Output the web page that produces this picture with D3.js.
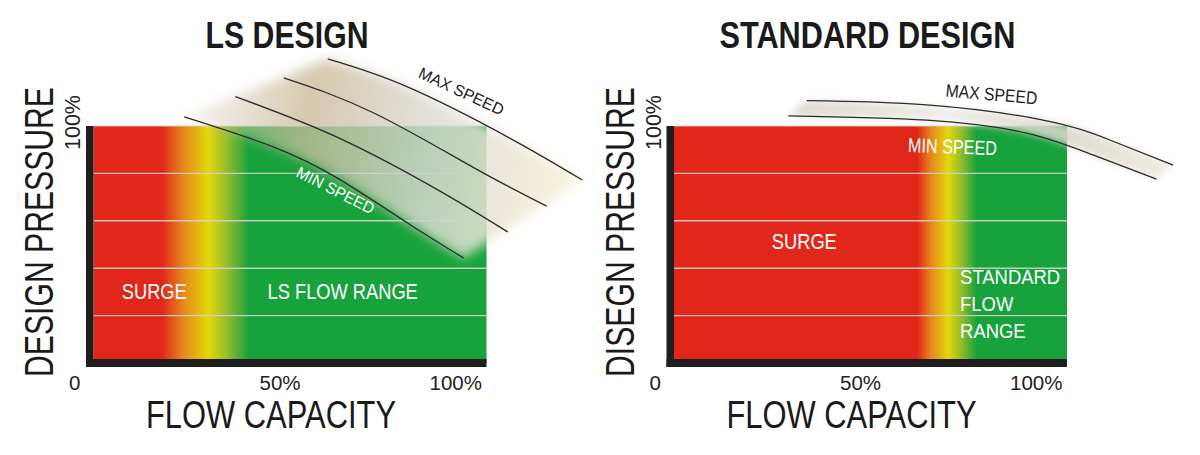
<!DOCTYPE html>
<html>
<head>
<meta charset="utf-8">
<script src="https://cdn.jsdelivr.net/npm/d3@7"></script>
<style>
  body { margin: 0; background: #fff; }
  svg { display: block; }
</style>
</head>
<body>
<script>
// ---- data ----
var chartTitles = ["LS DESIGN", "STANDARD DESIGN"];
var yTitles = ["DESIGN PRESSURE", "DISEGN PRESSURE"];
var xTitle = "FLOW CAPACITY";
var flowTicks = [0, 50, 100];
var flowTickLabels = ["0", "50%", "100%"];
var pressureGrid = [20, 40, 60, 80, 100];
var pressureTopLabel = "100%";

// colour zones in % flow: [end of red, yellow, start of green]
var lsZones = [17.4, 29.2, 39.5];
var stdZones = [61.8, 69.7, 77];

// speed lines as [flow %, pressure %]
var lsMinSpeed = [[23.1, 103.8], [45.4, 91.4], [62.5, 77.6], [79.9, 59.1], [94.2, 44.3]];
var lsSpeed2   = [[36.1, 112.4], [62.5, 94.9], [88.5, 72.2], [105.4, 55.3]];
var lsSpeed3   = [[48.4, 120.3], [71.2, 105.6], [97.2, 82.0], [115.3, 66.2]];
var lsMaxSpeed = [[59.6, 128.3], [79.9, 116.5], [105.9, 94.9], [124.4, 77.2]];

var stdMaxSpeed = [[33.8, 110.7], [64.3, 108.9], [93.9, 102.5], [110.9, 94.1], [127.0, 83.5]];
var stdMinSpeed = [[29.1, 104.3], [64.3, 102.5], [89.7, 97.0], [106.6, 87.8], [122.8, 77.6]];

// white zone labels: text, flow %, pressure % (baseline)
var lsLabels = [["SURGE", 7.2, 27], ["LS FLOW RANGE", 44.3, 27]];
var stdLabels = [["SURGE", 24.9, 48.1]];
var stdRangeLines = ["STANDARD", "FLOW", "RANGE"];
var stdRangePos = [72.8, 33.3];

var w = 1200, h = 455;
var red = "#e1261a", green = "#18a23c";
var narrow = "'Liberation Sans Narrow', 'Liberation Sans', Arial, sans-serif";
var regular = "'Liberation Sans', Arial, sans-serif";

var svg = d3.select("body").append("svg")
    .attr("width", w)
    .attr("height", h);
var defs = svg.append("defs");

// squeeze a text so it is `len` px long, keeping its height
function fit(sel, len) {
    sel.attr("textLength", len).attr("lengthAdjust", "spacingAndGlyphs");
}
function condense(sel, k) {
    sel.each(function() {
        d3.select(this).call(fit, this.getComputedTextLength() * k);
    });
}

function drawChart(c, i) {
    var x = d3.scaleLinear().domain([0, 100]).range([c.left, c.left + 393]);
    var y = d3.scaleLinear().domain([0, 100]).range([363, 126]);
    var g = svg.append("g");

    // zone gradient
    var gid = "zones" + i;
    var z = c.zones;
    var stops = [
        [0, red], [z[0], red], [z[0] + (z[1] - z[0]) * 0.45, "#e6861e"],
        [z[1], "#e2d80a"], [z[1] + (z[2] - z[1]) * 0.45, "#98bd2c"],
        [z[2], green], [100, green]
    ];
    var grad = defs.append("linearGradient").attr("id", gid)
        .attr("gradientUnits", "userSpaceOnUse")
        .attr("x1", x(0)).attr("x2", x(100)).attr("y1", 0).attr("y2", 0);
    grad.selectAll("stop").data(stops).enter().append("stop")
        .attr("offset", function(d) { return d[0] / 100; })
        .attr("stop-color", function(d) { return d[1]; });

    g.append("rect")
        .attr("x", x(0)).attr("y", y(100))
        .attr("width", x(100) - x(0)).attr("height", y(0) - y(100))
        .attr("fill", "url(#" + gid + ")");

    // haze band between min and max speed lines
    var line = d3.line()
        .x(function(d) { return x(d[0]); })
        .y(function(d) { return y(d[1]); })
        .curve(d3.curveNatural);
    var mx = c.maxLine, mn = c.minLine;
    var hid = "haze" + i;
    var hg = defs.append("linearGradient").attr("id", hid)
        .attr("gradientUnits", "userSpaceOnUse")
        .attr("x1", x(mn[0][0])).attr("y1", y(mn[0][1]))
        .attr("x2", x(mx[mx.length - 1][0])).attr("y2", y(mx[mx.length - 1][1]));
    hg.selectAll("stop").data(c.hazeStops).enter().append("stop")
        .attr("offset", function(d) { return d[0]; })
        .attr("stop-color", function(d) { return d[1]; })
        .attr("stop-opacity", function(d) { return d[2]; });
    defs.append("filter").attr("id", "blur" + i)
        .attr("x", "-30%").attr("y", "-30%").attr("width", "160%").attr("height", "160%")
        .append("feGaussianBlur").attr("stdDeviation", c.blur);

    var band = line(mn) + "L" + line(mx.slice().reverse()).slice(1) + "Z";
    g.append("path")
        .attr("d", band)
        .attr("fill", "url(#" + hid + ")")
        .attr("filter", "url(#blur" + i + ")");

    // grid lines
    g.selectAll(".grid").data(pressureGrid).enter().append("line")
        .attr("x1", x(0)).attr("x2", x(100))
        .attr("y1", function(d) { return y(d); })
        .attr("y2", function(d) { return y(d); })
        .attr("stroke", "#d2d2d2")
        .attr("stroke-opacity", function(d) { return d === 100 ? 0.6 : 0.9; })
        .attr("stroke-width", 1.4);

    // speed lines
    g.selectAll(".speed").data(c.speedLines).enter().append("path")
        .attr("d", line)
        .attr("fill", "none")
        .attr("stroke", "#2b2b2b")
        .attr("stroke-width", 1.3);

    // axes (thick black L)
    g.append("rect")
        .attr("x", x(0) - 7.5).attr("y", y(100))
        .attr("width", 7.5).attr("height", y(0) + 4 - y(100))
        .attr("fill", "#1e1e1e");
    g.append("rect")
        .attr("x", x(0) - 7.5).attr("y", y(0) - 4)
        .attr("width", x(100) - x(0) + 7.5).attr("height", 8)
        .attr("fill", "#1e1e1e");

    // tick labels
    var tickDx = [-13, -10, -4.5];
    var tickAnchor = ["end", "middle", "end"];
    g.selectAll(".tick").data(flowTicks).enter().append("text")
        .attr("x", function(d, k) { return x(d) + tickDx[k]; })
        .attr("y", y(0) + 27)
        .attr("text-anchor", function(d, k) { return tickAnchor[k]; })
        .attr("font-family", regular)
        .attr("font-size", "20.5px")
        .attr("fill", "#222")
        .text(function(d, k) { return flowTickLabels[k]; });

    g.append("text")
        .attr("transform", "translate(" + (x(0) - 13.5) + "," + (y(100) + 24) + ") rotate(-90)")
        .attr("font-family", regular)
        .attr("font-size", "21.5px")
        .attr("fill", "#222")
        .text(pressureTopLabel);

    // titles
    g.append("text")
        .attr("x", x(50) - 3).attr("y", 47.5)
        .attr("text-anchor", "middle")
        .attr("font-family", narrow)
        .attr("font-weight", 700)
        .attr("font-size", "37px")
        .attr("fill", "#1a1a1a")
        .text(c.title)
        .call(fit, c.titleW);

    g.append("text")
        .attr("x", x(50) - 19).attr("y", 428)
        .attr("text-anchor", "middle")
        .attr("font-family", narrow)
        .attr("font-size", "39px")
        .attr("fill", "#1a1a1a")
        .text(xTitle)
        .call(fit, 250);

    // y title: rotated, squeezed with a scale so its box stays honest
    var yt = g.append("text")
        .attr("text-anchor", "middle")
        .attr("font-family", narrow)
        .attr("font-size", "40px")
        .attr("fill", "#1a1a1a")
        .text(c.yTitle);
    var sx = 290 / yt.node().getComputedTextLength();
    yt.attr("transform", "translate(" + (x(0) - 40.5) + ",232) rotate(-90) scale(" + sx + ",1)");

    // white zone labels (condensed)
    g.selectAll(".zl").data(c.labels).enter().append("text")
        .attr("x", function(d) { return x(d[1]); })
        .attr("y", function(d) { return y(d[2]); })
        .attr("font-family", narrow)
        .attr("font-size", "22px")
        .attr("fill", "#fff")
        .text(function(d) { return d[0]; })
        .call(condense, 0.83);

    // speed captions
    c.captions.forEach(function(t) {
        g.append("text")
            .attr("transform", "translate(" + x(t.at[0]) + "," + y(t.at[1]) + ") rotate(" + t.rot + ")")
            .attr("font-family", t.narrow ? narrow : regular)
            .attr("font-size", t.size + "px")
            .attr("fill", t.color)
            .text(t.text)
            .call(fit, t.len);
    });

    return { g: g, x: x, y: y };
}

drawChart({
    left: 93.5, zones: lsZones, title: chartTitles[0], titleW: 163, yTitle: yTitles[0],
    minLine: lsMinSpeed, maxLine: lsMaxSpeed,
    speedLines: [lsMinSpeed, lsSpeed2, lsSpeed3, lsMaxSpeed],
    hazeStops: [[0, "#d6ccb4", 0.25], [0.3, "#c9bb98", 0.78], [0.6, "#dcdad3", 0.82], [1, "#f7f2d6", 0.9]],
    blur: 6,
    labels: lsLabels,
    captions: [
        { text: "MAX SPEED", at: [82.4, 120.7], rot: 25, size: 16, len: 92, color: "#222", narrow: false },
        { text: "MIN SPEED", at: [51.3, 78.9], rot: 27, size: 16, len: 85, color: "#fff", narrow: false }
    ]
}, 0);

var std = drawChart({
    left: 674, zones: stdZones, title: chartTitles[1], titleW: 296, yTitle: yTitles[1],
    minLine: stdMinSpeed, maxLine: stdMaxSpeed,
    speedLines: [stdMinSpeed, stdMaxSpeed],
    hazeStops: [[0, "#cfc8b8", 0.7], [0.4, "#ecebe6", 0.85], [0.7, "#d9d5c8", 0.88], [1, "#efeadb", 0.9]],
    blur: 3.5,
    labels: stdLabels,
    captions: [
        { text: "MAX SPEED", at: [69, 112.5], rot: 5, size: 18, len: 92, color: "#222", narrow: true },
        { text: "MIN SPEED", at: [59.5, 89], rot: 2, size: 20, len: 89, color: "#fff", narrow: true }
    ]
}, 1);

// multi-line range label on the standard chart
var rl = std.g.append("g");
rl.selectAll("text").data(stdRangeLines).enter().append("text")
    .attr("x", std.x(stdRangePos[0]))
    .attr("y", function(d, k) { return std.y(stdRangePos[1]) + k * 27; })
    .attr("font-family", narrow)
    .attr("font-size", "21px")
    .attr("fill", "#fff")
    .text(function(d) { return d; });
var texts = rl.selectAll("text").nodes();
var k0 = 100 / texts[0].getComputedTextLength();
rl.selectAll("text").call(condense, k0);
</script>
</body>
</html>
